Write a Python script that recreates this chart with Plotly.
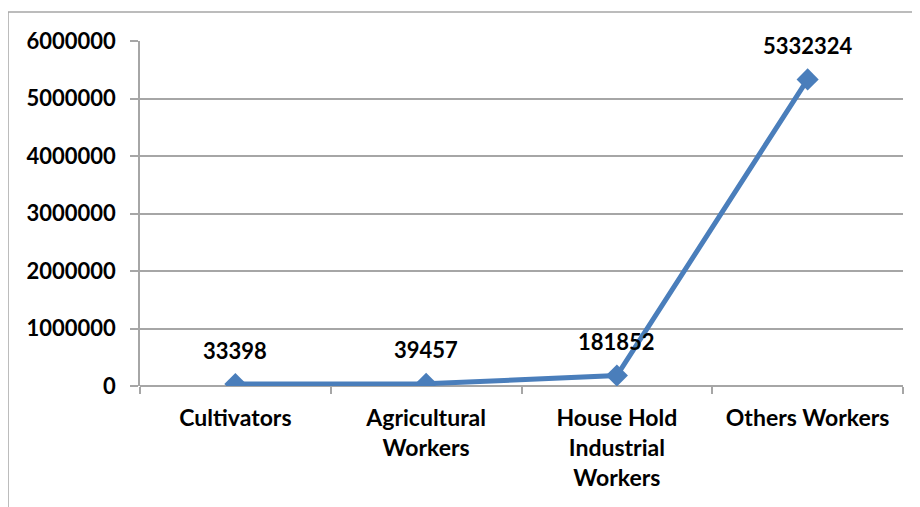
import plotly.graph_objects as go

categories = ["Cultivators", "Agricultural<br>Workers", "House Hold<br>Industrial<br>Workers", "Others Workers"]
values = [33398, 39457, 181852, 5332324]
y_ticks = [0, 1000000, 2000000, 3000000, 4000000, 5000000, 6000000]

# page has an 8px body margin, so figure coords = page coords - 8
OFF = 8
W, H = 920, 507
L, R, T, B = 140 - OFF, 25, 41 - OFF, 129
pw, ph = W - L - R, H - T - B

def px_x(p):
    return (p - OFF - L) / pw

def px_y(p):
    return (H - B - (p - OFF)) / ph

font_family = "Lato, 'Liberation Sans', sans-serif"
grid = "#A6A6A6"

fig = go.Figure()
fig.add_trace(go.Scatter(
    x=categories, y=values, mode="lines+markers",
    line=dict(color="#4A7EBB", width=5),
    marker=dict(symbol="diamond", size=17, color="#4A7EBB"),
    hoverinfo="skip", showlegend=False,
))

for c, v in zip(categories, values):
    fig.add_annotation(x=c, y=v, text=f"<b>{v}</b>", showarrow=False,
                       yshift=34, font=dict(family=font_family, size=22, color="black"))

fig.update_xaxes(
    type="category", range=[-0.5, 3.5], tickson="boundaries",
    ticks="outside", ticklen=7, tickcolor=grid, tickwidth=1.5,
    showline=False, showgrid=False, ticklabelstandoff=16,
    tickvals=categories, ticktext=[f"<b>{c}</b>" for c in categories],
    tickfont=dict(family=font_family, size=23, color="black"),
)
fig.update_yaxes(
    range=[0, 6000000], tickvals=y_ticks, ticktext=[f"<b>{t}</b>" for t in y_ticks],
    ticks="outside", ticklen=8, tickcolor=grid, tickwidth=1.5,
    showline=True, linecolor=grid, linewidth=1.5, ticklabelstandoff=10,
    showgrid=True, gridcolor=grid, gridwidth=1.5,
    zeroline=True, zerolinecolor=grid, zerolinewidth=1.5,
    tickfont=dict(family=font_family, size=22, color="black"),
)

fig.add_shape(type="rect", xref="paper", yref="paper",
              x0=px_x(8), x1=px_x(930), y0=px_y(530), y1=px_y(12),
              line=dict(color="#A6A6A6", width=1.5), layer="below")

fig.update_layout(
    width=W, height=H, margin=dict(l=L, r=R, t=T, b=B),
    paper_bgcolor="white", plot_bgcolor="white",
    font=dict(family=font_family),
)
fig.write_html("out.html")
